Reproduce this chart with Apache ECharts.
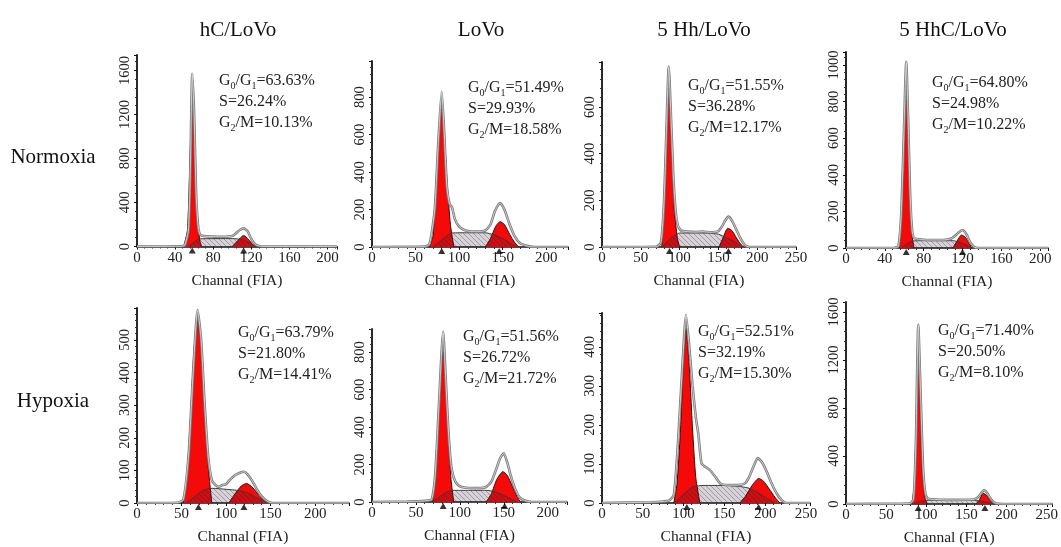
<!DOCTYPE html>
<html><head><meta charset="utf-8">
<script src="https://cdn.jsdelivr.net/npm/echarts@6/dist/echarts.min.js"></script>
<style>html,body{margin:0;padding:0;background:#fff}#c{width:1061px;height:547px}</style>
</head><body><div id="c"></div>
<script>
// ---------- text ----------
const columnTitles = ['hC/LoVo', 'LoVo', '5 Hh/LoVo', '5 HhC/LoVo'];
const rowTitles = ['Normoxia', 'Hypoxia'];
const xAxisName = 'Channal (FIA)';
// [G0/G1, S, G2/M] percentages, panels in reading order
const statG01 = ['63.63', '51.49', '51.55', '64.80', '63.79', '51.56', '52.51', '71.40'];
const statS   = ['26.24', '29.93', '36.28', '24.98', '21.80', '26.72', '32.19', '20.50'];
const statG2M = ['10.13', '18.58', '12.17', '10.22', '14.41', '21.72', '15.30', '8.10'];

// ---------- axis ranges ----------
const xMaxes = [210, 225, 250, 208, 238, 222, 255, 257];
const xSteps = [40, 50, 50, 40, 50, 50, 50, 50];
const yMaxes = [1740, 992, 793, 1071, 598, 923, 487, 1683];
const ySteps = [400, 200, 200, 200, 100, 200, 100, 400];

// ---------- histogram envelopes [channel, count] ----------
const env1 = [[0,0],[45,2],[50,10],[54,150],[56,700],[58,1570],[60,1200],[62,500],[64,200],[66,110],[70,95],[80,90],[90,88],[100,95],[104,120],[108,150],[112,165],[116,140],[120,70],[124,20],[128,5],[135,0],[210,0]];
const env2 = [[0,0],[60,2],[66,15],[72,200],[76,550],[80,828],[83,600],[86,320],[89,230],[92,210],[95,150],[99,115],[104,95],[110,85],[120,82],[130,88],[136,120],[141,190],[147,235],[152,200],[158,120],[164,55],[170,20],[178,6],[186,0],[225,0]];
const env3 = [[0,0],[70,1],[76,20],[80,200],[83,500],[86,773],[89,550],[92,300],[95,150],[98,90],[102,70],[110,66],[120,64],[130,66],[140,63],[150,68],[155,90],[159,115],[163,130],[168,110],[173,75],[178,40],[184,8],[190,0],[250,0]];
const env4 = [[0,0],[50,1],[54,10],[57,200],[60,700],[62,1018],[64,700],[66,300],[68,100],[70,55],[80,45],[90,44],[100,44],[108,50],[112,65],[116,85],[120,98],[124,75],[128,30],[132,5],[136,0],[208,0]];
const env5 = [[0,0],[45,1],[52,10],[58,150],[63,400],[68,592],[72,500],[76,300],[80,140],[84,70],[88,55],[92,50],[96,55],[100,58],[104,70],[110,85],[115,92],[120,96],[125,85],[130,65],[135,40],[140,20],[146,6],[152,0],[238,0]];
const env6 = [[0,0],[40,2],[60,6],[68,15],[72,150],[76,500],[81,908],[84,650],[87,380],[90,200],[93,130],[97,95],[102,80],[110,75],[120,74],[130,80],[136,110],[141,170],[146,235],[150,260],[154,210],[158,140],[163,70],[168,25],[174,8],[182,0],[222,0]];
const env7 = [[0,0],[60,2],[75,4],[82,6],[88,20],[93,150],[98,330],[103,482],[107,400],[111,300],[115,220],[118,178],[122,102],[127,92],[132,85],[138,70],[145,50],[155,46],[165,46],[175,50],[180,65],[186,95],[191,115],[196,105],[202,80],[208,50],[214,25],[220,8],[226,0],[255,0]];
const env8 = [[0,0],[60,2],[80,6],[84,40],[87,500],[90,1492],[93,900],[96,300],[99,80],[102,45],[110,38],[130,34],[150,35],[160,40],[165,60],[169,95],[172,117],[176,90],[180,45],[184,15],[188,4],[195,0],[257,0]];

// ---------- G0/G1 fitted peaks ----------
const g01Fit1 = [[49,0],[53,150],[56,900],[58,1450],[60,1000],[63,300],[66,50],[68,0]];
const g01Fit2 = [[66,0],[70,60],[74,380],[78,700],[80,757],[82,680],[86,360],[90,120],[94,0]];
const g01Fit3 = [[77,0],[80,200],[83,520],[86,708],[89,480],[93,170],[97,40],[100,0]];
const g01Fit4 = [[55,0],[58,250],[60,680],[62,909],[64,650],[66,270],[68,70],[70,0]];
const g01Fit5 = [[52,0],[56,80],[60,260],[64,470],[68,561],[72,480],[76,280],[80,110],[84,0]];
const g01Fit6 = [[69,0],[72,110],[76,480],[81,828],[84,640],[87,340],[90,120],[93,0]];
const g01Fit7 = [[88,0],[92,50],[96,180],[100,370],[103,448],[107,350],[111,190],[115,65],[120,0]];
const g01Fit8 = [[82,0],[85,150],[88,850],[90,1394],[92,900],[95,280],[98,60],[101,0]];

// ---------- G2/M fitted peaks ----------
const g2mFit1 = [[100,0],[106,55],[112,100],[117,65],[122,15],[126,0]];
const g2mFit2 = [[130,0],[136,45],[142,110],[147,135],[152,120],[158,68],[164,22],[169,0]];
const g2mFit3 = [[151,0],[156,40],[162,80],[167,72],[172,46],[177,20],[182,0]];
const g2mFit4 = [[110,0],[114,35],[119,71],[123,58],[127,22],[130,0]];
const g2mFit5 = [[103,0],[110,28],[117,52],[123,60],[130,47],[137,23],[146,0]];
const g2mFit6 = [[130,0],[136,45],[142,120],[149,162],[154,142],[160,82],[165,30],[169,0]];
const g2mFit7 = [[169,0],[176,18],[184,45],[192,63],[198,56],[205,36],[212,15],[218,0]];
const g2mFit8 = [[162,0],[166,35],[171,89],[175,72],[179,35],[184,0]];

// ---------- S-phase fitted areas ----------
const sFit1 = [[54,0],[60,40],[66,70],[100,72],[112,60],[120,20],[125,0]];
const sFit2 = [[70,0],[78,30],[86,60],[92,75],[110,76],[130,76],[140,65],[150,45],[158,22],[166,0]];
const sFit3 = [[78,0],[86,30],[94,50],[100,60],[130,60],[150,55],[160,40],[170,25],[180,0]];
const sFit4 = [[57,0],[62,20],[68,38],[80,40],[110,40],[118,30],[125,12],[130,0]];
const sFit5 = [[55,0],[65,20],[75,40],[85,45],[100,42],[115,38],[125,30],[135,15],[148,0]];
const sFit6 = [[68,0],[76,25],[84,50],[92,62],[110,62],[130,62],[140,55],[148,40],[156,22],[165,0]];
const sFit7 = [[88,0],[96,15],[104,30],[112,42],[125,45],[150,45],[170,42],[180,38],[190,28],[200,15],[212,0]];
const sFit8 = [[84,0],[92,20],[100,30],[130,32],[160,30],[170,22],[178,10],[185,0]];

// ---------- peak-position markers (channels) ----------
const peakMarks1 = [58, 112];
const peakMarks2 = [80, 146];
const peakMarks3 = [87, 163];
const peakMarks4 = [62, 120];
const peakMarks5 = [69, 120];
const peakMarks6 = [81, 151];
const peakMarks7 = [104, 192];
const peakMarks8 = [90, 173];

const envs = [env1, env2, env3, env4, env5, env6, env7, env8];
const g01s = [g01Fit1, g01Fit2, g01Fit3, g01Fit4, g01Fit5, g01Fit6, g01Fit7, g01Fit8];
const g2ms = [g2mFit1, g2mFit2, g2mFit3, g2mFit4, g2mFit5, g2mFit6, g2mFit7, g2mFit8];
const sFits = [sFit1, sFit2, sFit3, sFit4, sFit5, sFit6, sFit7, sFit8];
const marks = [peakMarks1, peakMarks2, peakMarks3, peakMarks4, peakMarks5, peakMarks6, peakMarks7, peakMarks8];

// ---------- layout (pixels) ----------
const layout = [
  {left:137, top:55,  width:200, height:191.5, statX:219, statY:81},
  {left:372, top:61,  width:196, height:186,   statX:468, statY:88},
  {left:602, top:62,  width:194, height:185,   statX:688, statY:86},
  {left:846, top:52,  width:202, height:196,   statX:932, statY:83},
  {left:137, top:308, width:212, height:195,   statX:238, statY:333},
  {left:372, top:329, width:195, height:173,   statX:463, statY:337},
  {left:602, top:313, width:208, height:190,   statX:698, statY:332},
  {left:846, top:302, width:215, height:202,   statX:938, statY:331}
];
const colX = [238, 481, 704, 953];
const rowY = [157, 401];
const SERIF = '"Liberation Serif", "Times New Roman", serif';

function hatch() {
  const c = document.createElement('canvas');
  c.width = 5; c.height = 5;
  const g = c.getContext('2d');
  g.fillStyle = 'rgba(50,30,60,0.2)';
  g.fillRect(0, 0, 5, 5);
  g.strokeStyle = 'rgba(30,30,30,0.3)';
  g.lineWidth = 1;
  g.beginPath(); g.moveTo(-1, -1); g.lineTo(6, 6); g.stroke();
  return c;
}
const hatchPattern = { image: hatch(), repeat: 'repeat' };
const plainNum = v => String(v);

const grid = [], xAxis = [], yAxis = [], series = [], graphic = [];
for (let i = 0; i < 8; i++) {
  const L = layout[i];
  grid.push({left: L.left, top: L.top, width: L.width, height: L.height, containLabel: false});
  xAxis.push({
    gridIndex: i, type: 'value', min: 0, max: xMaxes[i], interval: xSteps[i],
    name: xAxisName, nameLocation: 'middle', nameGap: 26,
    nameTextStyle: {fontFamily: SERIF, fontSize: 15.5, color: '#222'},
    axisLine: {onZero: false, lineStyle: {color: '#111', width: 1.5}},
    axisTick: {show: true, length: 3, lineStyle: {color: '#111'}},
    minorTick: {show: true, splitNumber: 5, length: 2, lineStyle: {color: '#333'}},
    axisLabel: {fontFamily: SERIF, fontSize: 15, color: '#222', margin: 4, formatter: plainNum,
      showMaxLabel: xMaxes[i] % xSteps[i] === 0},
    splitLine: {show: false}
  });
  yAxis.push({
    gridIndex: i, type: 'value', min: 0, max: yMaxes[i], interval: ySteps[i],
    axisLine: {show: true, onZero: false, lineStyle: {color: '#111', width: 1.8}},
    axisTick: {show: true, length: 3, lineStyle: {color: '#111'}},
    minorTick: {show: true, splitNumber: 5, length: 2, lineStyle: {color: '#333'}},
    axisLabel: {fontFamily: SERIF, fontSize: 14.5, color: '#222', rotate: 90, margin: 4, formatter: plainNum,
      showMaxLabel: yMaxes[i] % ySteps[i] === 0},
    splitLine: {show: false}
  });
  const common = {xAxisIndex: i, yAxisIndex: i, type: 'line', symbol: 'none', smooth: 0.2, animation: false, silent: true};
  series.push(Object.assign({}, common, {data: g01s[i], lineStyle: {color: '#4a0000', width: 1}, areaStyle: {color: '#f50a0a', opacity: 1}, z: 2}));
  series.push(Object.assign({}, common, {data: g2ms[i], lineStyle: {color: '#4a0000', width: 1}, areaStyle: {color: '#f50a0a', opacity: 1}, z: 2}));
  series.push(Object.assign({}, common, {data: sFits[i], lineStyle: {color: '#3a3a3a', width: 1}, areaStyle: {color: hatchPattern, opacity: 1}, z: 3}));
  series.push(Object.assign({}, common, {data: envs[i], lineStyle: {color: '#7c7c7c', width: 2.6}, z: 4}));
  series.push(Object.assign({}, common, {data: envs[i], lineStyle: {color: '#e2e2e2', width: 0.8}, z: 4}));
  series.push({xAxisIndex: i, yAxisIndex: i, type: 'scatter', symbol: 'triangle', symbolSize: [7, 6], symbolOffset: [0, 4],
    data: marks[i].map(c => [c, 0]), itemStyle: {color: '#000'}, clip: false, z: 6, animation: false, silent: true});

  graphic.push({
    type: 'text', x: L.statX, y: L.statY - 10.5,
    style: {
      text: '{n|G}{s|0}{n|/G}{s|1}{n|=' + statG01[i] + '%}\n{n|S=' + statS[i] + '%}\n{n|G}{s|2}{n|/M=' + statG2M[i] + '%}',
      fill: '#222',
      rich: {
        n: {fontFamily: SERIF, fontSize: 16, lineHeight: 21, fill: '#222'},
        s: {fontFamily: SERIF, fontSize: 10, lineHeight: 12, verticalAlign: 'bottom', fill: '#222'}
      }
    }
  });
}
columnTitles.forEach((t, k) => graphic.push({type: 'text', x: colX[k], y: 30,
  style: {text: t, font: '21px ' + SERIF, fill: '#111', align: 'center', verticalAlign: 'middle'}}));
rowTitles.forEach((t, k) => graphic.push({type: 'text', x: 53, y: rowY[k],
  style: {text: t, font: '21px ' + SERIF, fill: '#111', align: 'center', verticalAlign: 'middle'}}));

const chart = echarts.init(document.getElementById('c'), null, {renderer: 'canvas'});
chart.setOption({backgroundColor: '#fff', animation: false, grid, xAxis, yAxis, series, graphic});
</script>
</body></html>
